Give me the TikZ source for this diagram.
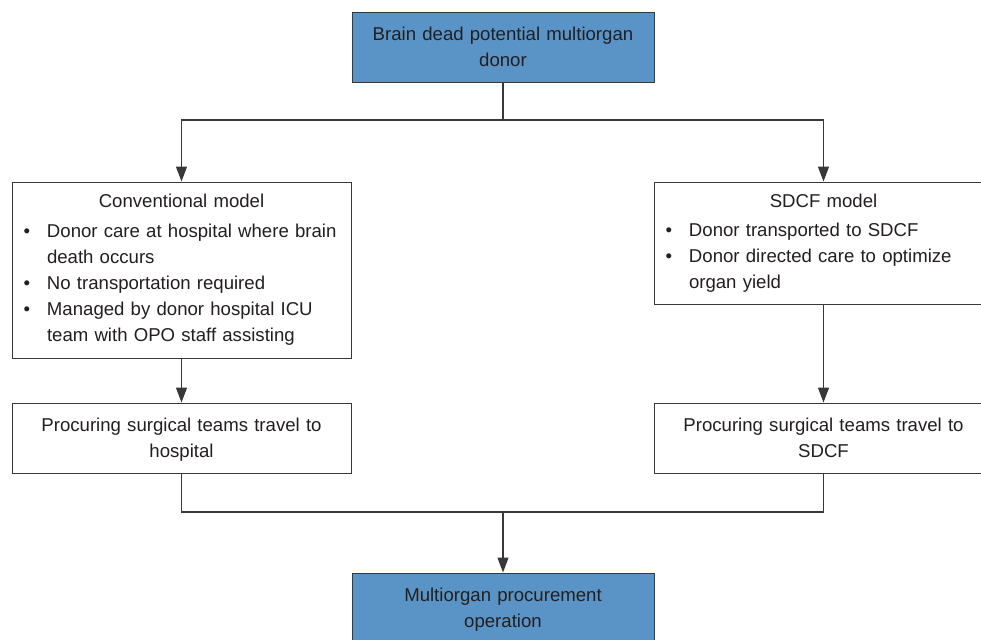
\documentclass[tikz,border=0pt]{standalone}
\usepackage{fontspec}
\setmainfont{Liberation Sans}
\usetikzlibrary{positioning,arrows.meta}
\definecolor{donorblue}{HTML}{5A94C6}
\definecolor{donorink}{HTML}{231F20}
\definecolor{donorline}{HTML}{383838}
\newcommand{\bitem}[1]{\par\hangindent=13.5pt\hangafter=1\noindent\makebox[13.5pt][l]{\hspace{1.8pt}\textbullet}#1}

\begin{document}
\begin{tikzpicture}[
  x=0.5pt, y=-0.5pt,
  font=\fontsize{9.3}{13.1}\selectfont, text=donorink,
  box/.style={draw=donorline, line width=0.5pt, fill=white, inner xsep=4pt, inner ysep=0pt,
    minimum width=169.5pt, text width=161.5pt},
  blue/.style={box, fill=donorblue, align=center, minimum height=35pt,
    minimum width=151pt, text width=143pt},
  plain/.style={box, align=center, minimum height=35pt},
  arr/.style={-{Triangle[length=7.5pt, width=5.5pt]}, line width=0.65pt, draw=donorline},
  link/.style={line width=0.65pt, draw=donorline}
]
\useasboundingbox (0,0) rectangle (981,639);

\node[blue] (donor) at (503,47) {Brain dead potential multiorgan\\donor};
\node[box, minimum height=88pt] (conv) at (181.5,270)
  {{\centering Conventional model\par}\vspace{1.5pt}\raggedright
   \bitem{Donor care at hospital where brain\newline death occurs}
   \bitem{No transportation required}
   \bitem{Managed by donor hospital ICU\newline team with OPO staff assisting}\par};
\node[box, minimum height=61pt] (sdcf) at (823.5,243)
  {{\centering SDCF model\par}\vspace{1.5pt}\raggedright
   \bitem{Donor transported to SDCF}
   \bitem{Donor directed care to optimize\newline organ yield}\par};
\node[plain] (travelconv) at (181.5,438) {Procuring surgical teams travel to\\\smash{hospital}};
\node[plain] (travelsdcf) at (823.5,438) {Procuring surgical teams travel to\\SDCF};
\node[blue] (procure) at (503,608) {Multiorgan procurement\\\smash{operation}};

\coordinate (split) at (503,120);
\coordinate (merge) at (503,512);

\draw[link] (donor) -- (split);
\draw[arr] (split) -| (conv.north);
\draw[arr] (split) -| (sdcf.north);
\draw[arr] (conv) -- (travelconv);
\draw[arr] (sdcf) -- (travelsdcf);
\draw[link] (travelconv) |- (merge);
\draw[link] (travelsdcf) |- (merge);
\draw[arr] (merge) -- (procure);
\end{tikzpicture}
\end{document}
